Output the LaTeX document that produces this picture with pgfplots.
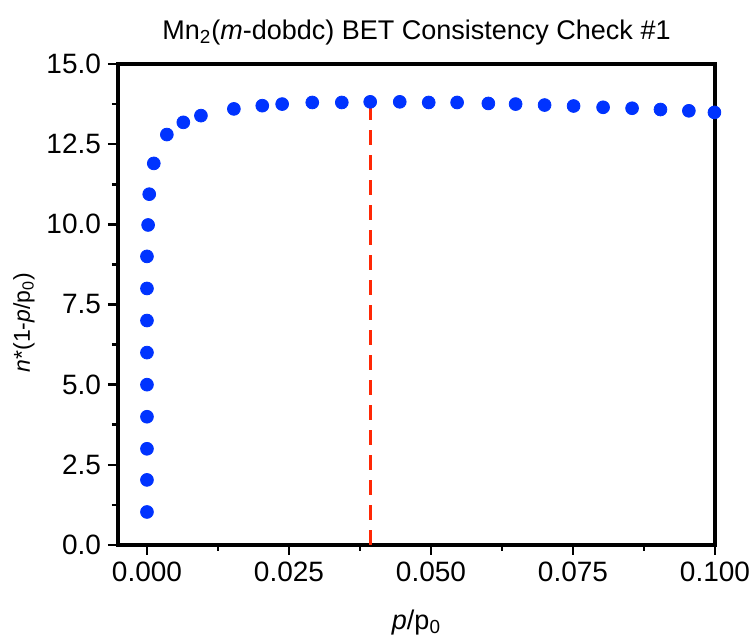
\documentclass[border=0pt]{standalone}
\usepackage{pgfplots}
\pgfplotsset{compat=1.18}
\usepackage{fontspec}
\setmainfont{Liberation Sans}
\definecolor{ptblue}{RGB}{0,51,255}
\definecolor{cutred}{RGB}{255,40,5}
\begin{document}
\begin{tikzpicture}
% page frame around the axis box (axis sits with its lower left corner at the origin)
\useasboundingbox (-59pt,-46pt) rectangle (316.5pt,272.5pt);
\begin{axis}[
  at={(0,0)}, anchor=south west,
  scale only axis,
  width=298.5pt, height=240.5pt,
  xmin=-0.0051, xmax=0.1,
  ymin=0, ymax=15,
  xtick={0,0.025,0.05,0.075,0.1},
  minor xtick={0.0125,0.0375,0.0625,0.0875},
  ytick={0,2.5,5,7.5,10,12.5,15},
  minor ytick={1.25,3.75,6.25,8.75,11.25,13.75},
  tick pos=left,
  tick align=outside,
  major tick length=5pt,
  minor tick length=3pt,
  every tick/.style={black, line width=1.3pt},
  axis line style={line width=1.6pt},
  xticklabel style={/pgf/number format/.cd, fixed, fixed zerofill, precision=3},
  yticklabel style={/pgf/number format/.cd, fixed, fixed zerofill, precision=1},
  /pgf/number format/assume math mode=true,
  scaled x ticks=false,
  tick label style={font=\fontsize{14}{16}\selectfont},
  xlabel style={font=\fontsize{13.5}{16}\selectfont, yshift=-7pt},
  ylabel style={font=\fontsize{11.5}{14}\selectfont, yshift=-1pt, xshift=-9pt},
  title style={font=\fontsize{13.5}{16}\selectfont, at={(0.5,1)}, anchor=south, yshift=0pt},
  title={Mn\textsubscript{2}(\textit{m}-dobdc) BET Consistency Check \#1},
  xlabel={\textit{p}/p\textsubscript{0}},
  ylabel={\textit{n}*(1-\textit{p}/p\textsubscript{0})},
  clip=false,
]
% consistency criterion cut-off
\addplot[cutred, line width=1.6pt, dash pattern=on 7.5pt off 5pt] coordinates {(0.0393,0) (0.0393,13.82)};
\addplot[only marks, mark=*, mark size=3.2pt, color=ptblue, mark options={draw=ptblue, fill=ptblue}] coordinates {
(0.00000,1.03) (0.00000,2.03) (0.00000,3.00) (0.00000,4.00) (0.00000,5.00)
(0.00000,6.00) (0.00000,7.00) (0.00000,8.00) (0.00000,9.00)
(0.0002,9.98) (0.0004,10.94) (0.0012,11.90) (0.0035,12.80) (0.0064,13.18)
(0.0095,13.39) (0.0153,13.60) (0.0203,13.70) (0.0238,13.75) (0.0291,13.80)
(0.0343,13.80) (0.0393,13.82) (0.0445,13.82) (0.0496,13.80) (0.0546,13.80)
(0.0601,13.77) (0.0649,13.75) (0.0700,13.72) (0.0751,13.69) (0.0803,13.65)
(0.0854,13.62) (0.0904,13.58) (0.0954,13.54) (0.0999,13.49)
};
\end{axis}
\end{tikzpicture}
\end{document}
